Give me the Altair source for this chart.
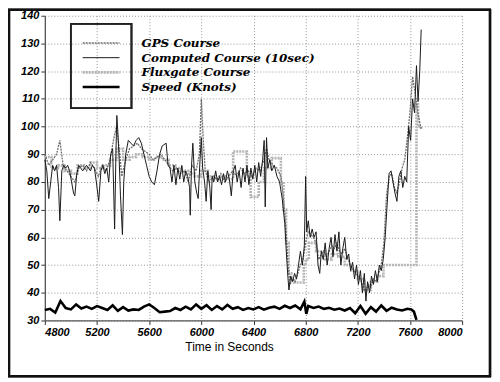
import altair as alt
import pandas as pd

# ---------------- data ----------------
series_names = ["GPS Course", "Computed Course (10sec)", "Fluxgate Course", "Speed (Knots)"]

comp_t = [4800, 4815, 4830, 4845, 4860, 4875, 4890, 4905, 4915, 4930, 4945, 4960, 4975, 4990,
          5005, 5020, 5030, 5045, 5060, 5075, 5090, 5105, 5120, 5135, 5150, 5165, 5180, 5195,
          5213, 5230, 5245, 5260, 5275, 5290, 5305, 5320, 5335, 5345, 5352, 5360, 5370, 5380,
          5395, 5405, 5420, 5440, 5460, 5480, 5500, 5520, 5540, 5560, 5580, 5600, 5620, 5640,
          5660, 5680, 5700, 5730, 5745, 5760, 5775, 5790, 5805, 5820, 5835, 5850, 5865, 5880,
          5895, 5910, 5915, 5925, 5935, 5950, 5965, 5976, 5990, 6000, 6010, 6025, 6037, 6050,
          6065, 6075, 6083, 6095, 6110, 6125, 6140, 6155, 6170, 6185, 6200, 6215, 6230, 6245,
          6260, 6275, 6290, 6305, 6320, 6335, 6350, 6365, 6380, 6395, 6410, 6425, 6440, 6455,
          6470, 6482, 6490, 6500, 6510, 6525, 6540, 6560, 6580, 6600, 6620, 6640, 6655, 6665,
          6672, 6685, 6700, 6715, 6730, 6745, 6760, 6775, 6790, 6800, 6808, 6820, 6835, 6850,
          6865, 6880, 6895, 6908, 6920, 6935, 6950, 6965, 6980, 6995, 7010, 7025, 7040, 7055,
          7070, 7085, 7100, 7115, 7130, 7145, 7160, 7175, 7190, 7205, 7220, 7235, 7250, 7262,
          7275, 7290, 7305, 7320, 7335, 7350, 7365, 7380, 7395, 7410, 7425, 7440, 7455, 7470,
          7485, 7500, 7515, 7530, 7545, 7560, 7575, 7590, 7605, 7620, 7635, 7650, 7662, 7675,
          7686]
comp_v = [88, 84, 74, 80, 86, 84, 86, 78, 66, 84, 86, 85, 86, 84,
          80, 76, 75, 83, 86, 85, 84, 85, 86, 85, 84, 86, 85, 80,
          73, 84, 86, 83, 85, 80, 90, 92, 63, 90, 104, 98, 88, 75,
          61, 80, 90, 95, 94, 93, 95, 96, 94, 90, 86, 82, 80, 79,
          84, 90, 93, 94, 86, 85, 80, 86, 79, 85, 81, 86, 80, 84,
          82, 78, 68, 86, 94, 80, 76, 74, 88, 96, 85, 80, 73, 84,
          78, 70, 82, 80, 84, 80, 82, 79, 83, 80, 84, 81, 75, 84,
          86, 80, 84, 78, 85, 80, 86, 79, 85, 81, 86, 80, 87, 82,
          88, 95, 71, 96, 85, 88, 84, 86, 82, 80, 74, 65, 52, 45,
          41, 46, 44, 47, 45, 50, 55, 50, 57, 82, 62, 66, 60, 63,
          60, 62, 50, 47, 55, 52, 58, 50, 56, 60, 53, 61, 55, 62,
          50, 56, 60, 52, 54, 48, 51, 45, 50, 43, 48, 40, 47, 37,
          44, 40, 46, 43, 48, 44, 50, 48, 52, 60, 72, 83, 84, 80,
          76, 73, 82, 84, 78, 82, 80, 100, 95, 110, 105, 122, 109, 120,
          135]

gps_t = [4800, 4830, 4860, 4890, 4915, 4940, 4970, 5000, 5030, 5060, 5090, 5120, 5150, 5180,
         5210, 5240, 5270, 5300, 5330, 5350, 5370, 5390, 5420, 5450, 5480, 5510, 5540, 5570,
         5600, 5630, 5660, 5690, 5720, 5750, 5780, 5810, 5840, 5870, 5900, 5930, 5960, 5985,
         6000, 6015, 6030, 6060, 6090, 6120, 6150, 6180, 6210, 6240, 6270, 6300, 6330, 6360,
         6390, 6420, 6450, 6480, 6500, 6520, 6550, 6580, 6610, 6630, 6650, 6665, 6680, 6700,
         6720, 6740, 6760, 6780, 6800, 6820, 6840, 6860, 6880, 6900, 6920, 6940, 6960, 6980,
         7000, 7020, 7040, 7060, 7080, 7100, 7120, 7140, 7160, 7180, 7200, 7220, 7240, 7260,
         7280, 7300, 7320, 7340, 7360, 7380, 7400, 7420, 7440, 7460, 7480, 7500, 7520, 7540,
         7560, 7580, 7600, 7620, 7640, 7660, 7686]
gps_v = [90, 86, 88, 90, 95, 86, 84, 82, 80, 85, 86, 84, 87, 85,
         82, 86, 84, 88, 96, 100, 92, 82, 88, 92, 93, 94, 92, 91,
         90, 88, 89, 90, 88, 86, 84, 85, 83, 84, 80, 86, 84, 90,
         110, 95, 84, 80, 82, 81, 83, 80, 82, 84, 82, 85, 83, 84,
         82, 85, 84, 88, 92, 88, 86, 85, 82, 74, 62, 50, 43, 45,
         44, 47, 50, 52, 58, 62, 61, 60, 58, 52, 54, 55, 53, 55,
         57, 56, 58, 55, 54, 56, 53, 50, 49, 47, 46, 45, 42, 40,
         43, 42, 45, 44, 47, 50, 58, 75, 82, 83, 78, 76, 80, 85,
         88, 96, 105, 118, 112, 105, 99]

flux_t = [4800, 4850, 4900, 4950, 5000, 5050, 5100, 5150, 5200, 5250, 5300, 5350, 5400, 5450,
          5500, 5550, 5600, 5650, 5700, 5750, 5800, 5850, 5900, 5950, 6000, 6050, 6100, 6150,
          6200, 6244, 6349, 6378, 6440, 6480, 6540, 6610, 6630, 6650, 6670, 6690, 6710, 6786,
          6800, 6825, 6880, 6950, 7000, 7050, 7100, 7150, 7200, 7250, 7300, 7350, 7397, 7650,
          7662, 7686]
flux_v = [89, 85, 86, 84, 83, 86, 85, 87, 85, 86, 88, 92, 88, 89,
          90, 89, 88, 89, 88, 86, 85, 84, 83, 82, 84, 82, 81, 82,
          81, 91, 82, 74.6, 80, 85, 88.6, 80, 70, 58, 47, 45, 43.7, 50,
          52, 58, 55, 52, 54, 53, 50, 48, 45, 41, 44, 46, 50, 108,
          100, 99]

speed_t = [4800, 4840, 4880, 4920, 4960, 5000, 5040, 5080, 5120, 5160, 5200, 5240, 5280, 5320,
           5360, 5400, 5440, 5480, 5520, 5560, 5600, 5640, 5680, 5720, 5760, 5800, 5840, 5880,
           5920, 5960, 6000, 6040, 6080, 6120, 6160, 6200, 6240, 6280, 6320, 6360, 6400, 6440,
           6480, 6520, 6560, 6600, 6640, 6680, 6720, 6760, 6790, 6805, 6820, 6860, 6900, 6940,
           6980, 7020, 7060, 7100, 7140, 7180, 7220, 7260, 7300, 7340, 7380, 7420, 7460, 7500,
           7540, 7580, 7610, 7630, 7650]
speed_v = [33.8, 34.2, 32.9, 37.0, 34.5, 34.0, 35.8, 34.3, 35.0, 34.2, 35.2, 34.5, 33.8, 35.5,
           33.5, 34.8, 33.6, 34.0, 33.8, 35.0, 35.8, 34.5, 33.0, 33.2, 33.4, 34.5, 33.8, 35.0,
           34.0, 35.8, 34.2, 35.5, 33.8, 35.2, 34.0, 35.6, 34.2, 34.8, 33.8, 34.5, 34.0, 34.8,
           33.9, 34.6, 35.0, 34.2, 35.3, 34.5, 35.4, 34.0, 36.8, 32.4, 35.2, 34.5, 35.0, 34.2,
           34.6, 33.9, 34.3, 33.6, 34.5, 32.6, 35.2, 32.4, 34.8, 33.2, 35.4, 33.5, 34.6, 34.0,
           33.6, 34.2, 34.0, 33.2, 30.2]

# ---------------- frames ----------------
comp_df = pd.DataFrame({"t": comp_t, "v": comp_v})
gps_df = pd.DataFrame({"t": gps_t, "v": gps_v})
flux_df = pd.DataFrame({"t": flux_t, "v": flux_v})
speed_df = pd.DataFrame({"t": speed_t, "v": speed_v})
legend_df = pd.DataFrame({"name": series_names})

W, H = 419, 306

# line styles per series (colour, width, dash)
styles = {
    "GPS Course": dict(color="#6e6e6e", strokeWidth=1.3, strokeDash=[2, 1]),
    "Computed Course (10sec)": dict(color="#1a1a1a", strokeWidth=1.0),
    "Fluxgate Course": dict(color="#b4b4b4", strokeWidth=2.6, strokeDash=[2, 1]),
    "Speed (Knots)": dict(color="#000000", strokeWidth=2.6),
}

x_enc = alt.X("t:Q", scale=alt.Scale(domain=[4800, 8000], nice=False, zero=False),
              axis=alt.Axis(values=list(range(4800, 8001, 400)), format="d", title="Time in Seconds",
                            titleX=185, titlePadding=4))
y_enc = alt.Y("v:Q", scale=alt.Scale(domain=[30, 140], nice=False, zero=False),
              axis=alt.Axis(values=list(range(30, 141, 10)), format="d", title=None))

flux = alt.Chart(flux_df).mark_line(interpolate="step-after", **styles["Fluxgate Course"]).encode(x=x_enc, y=y_enc)
gps = alt.Chart(gps_df).mark_line(**styles["GPS Course"]).encode(x=x_enc, y=y_enc)
comp = alt.Chart(comp_df).mark_line(**styles["Computed Course (10sec)"]).encode(x=x_enc, y=y_enc)
speed = alt.Chart(speed_df).mark_line(**styles["Speed (Knots)"]).encode(x=x_enc, y=y_enc)

main = alt.layer(flux, gps, comp, speed)

# manual legend (box round the samples, labels outside it, as in the original)
leg_y = alt.Y("name:N", scale=alt.Scale(type="point", domain=series_names, range=[20, 79]), axis=None)

leg_rules = [
    alt.Chart(legend_df).transform_filter(alt.datum.name == nm).mark_rule(**styles[nm]).encode(
        x=alt.value(38), x2=alt.value(75), y=leg_y)
    for nm in series_names
]
leg_text = alt.Chart(legend_df).mark_text(align="left", baseline="middle", font="DejaVu Serif",
                                         fontStyle="italic", fontWeight="bold", fontSize=12,
                                         color="black").encode(
    x=alt.value(97), y=leg_y, text="name:N")
leg_box = alt.Chart(legend_df).mark_rect(fill=None, stroke="#222", strokeWidth=1.5).encode(
    x=alt.value(26), x2=alt.value(87), y=alt.value(8), y2=alt.value(93))
frame = alt.Chart(legend_df).mark_rect(fill=None, stroke="#111", strokeWidth=2.2).encode(
    x=alt.value(-36), x2=alt.value(447), y=alt.value(-6), y2=alt.value(362))

legend = alt.layer(leg_box, *leg_rules, leg_text, frame)

chart = alt.layer(main, legend).resolve_scale(y="independent").properties(
    width=W, height=H,
    autosize=alt.AutoSizeParams(type="none"),
    padding={"left": 37, "top": 7, "right": 30, "bottom": 58},
    background="white",
).configure_view(stroke=None).configure_axis(
    grid=True, gridColor="#8a8a8a", gridDash=[1, 2], gridWidth=0.9,
    domainColor="#555", domainWidth=1.3, tickColor="#333", tickSize=4,
    labelFont="Liberation Sans", labelFontStyle="italic", labelFontWeight="bold",
    labelFontSize=11, labelColor="black", labelPadding=2,
    titleFont="Liberation Sans", titleFontWeight="normal", titleFontSize=12, titleColor="black",
)

chart.save("out.html", embed_options={"renderer": "svg", "actions": False})
